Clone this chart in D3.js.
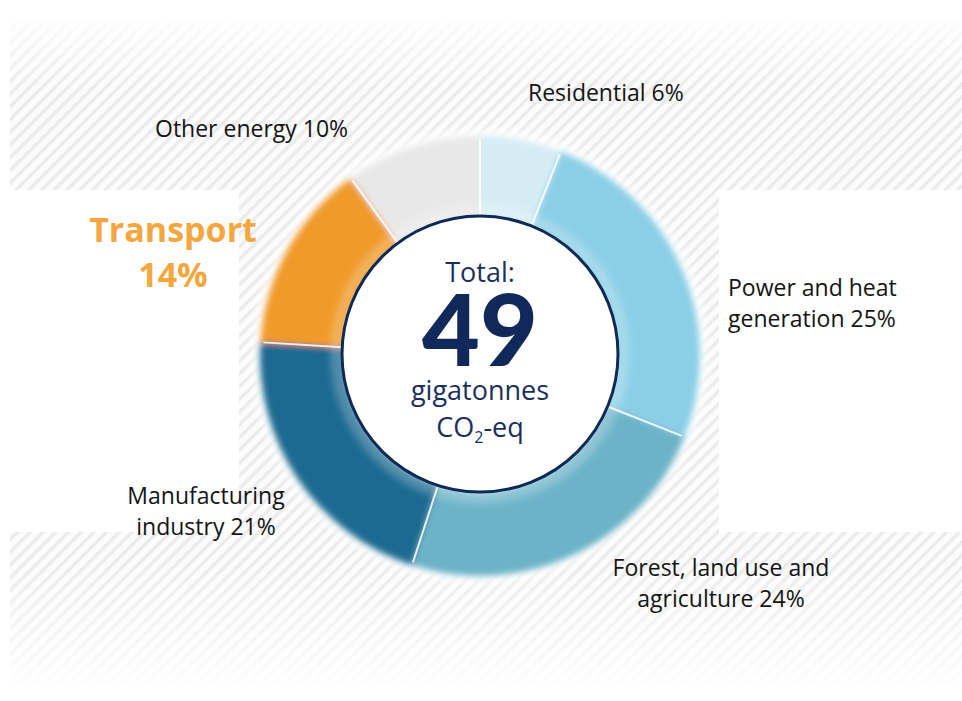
<!DOCTYPE html>
<html>
<head>
<meta charset="utf-8">
<script src="https://cdn.jsdelivr.net/npm/d3@7"></script>
<style>
  html, body { margin: 0; padding: 0; background: #ffffff; }
  svg { display: block; }
</style>
</head>
<body>
<svg id="chart" width="962" height="701"></svg>
<script>
// ---- data ----
const categories = ["Residential", "Power and heat generation", "Forest, land use and agriculture", "Manufacturing industry", "Transport", "Other energy"];
const values = [6, 25, 24, 21, 14, 10];
const labelLines = [
  ["Residential 6%"],
  ["Power and heat", "generation 25%"],
  ["Forest, land use and", "agriculture 24%"],
  ["Manufacturing", "industry 21%"],
  ["Transport", "14%"],
  ["Other energy 10%"]
];
const totalValue = "49";

// ---- styles (kept apart from data) ----
const innerColors = ["#eaf5f9", "#cdebf5", "#acd8e5", "#5ea6c5", "#f8be72", "#f1f1f1"];
const outerColors = ["#d6ecf4", "#8bcfe6", "#6cb3c8", "#1b6b91", "#f09a2a", "#e8e8e8"];
const labelPos = [
  {x: 528, y: 101, anchor: "start"},
  {x: 728, y: 296, anchor: "start"},
  {x: 721, y: 576, anchor: "middle"},
  {x: 206, y: 504, anchor: "middle"},
  {x: 173, y: 242, anchor: "middle"},
  {x: 155, y: 137, anchor: "start"}
];

const W = 962, H = 701;
const cx = 480, cy = 356;
const rOuter = 220, rInner = 140, rCenter = 138;

const svg = d3.select("#chart");
const defs = svg.append("defs");

// hatch pattern
const pat = defs.append("pattern")
  .attr("id", "hatch").attr("patternUnits", "userSpaceOnUse")
  .attr("width", 9).attr("height", 9)
  .attr("patternTransform", "rotate(45)");
pat.append("rect").attr("width", 9).attr("height", 9).attr("fill", "#fcfcfc");
pat.append("rect").attr("x", 0).attr("width", 3.4).attr("height", 9).attr("fill", "#ebebeb");

// fade mask for hatched background
const fade = defs.append("linearGradient").attr("id", "fadeV").attr("x1", 0).attr("y1", 0).attr("x2", 0).attr("y2", 1);
fade.append("stop").attr("offset", "0").attr("stop-color", "#fff").attr("stop-opacity", 0.15);
fade.append("stop").attr("offset", "0.1").attr("stop-color", "#fff").attr("stop-opacity", 1);
fade.append("stop").attr("offset", "0.82").attr("stop-color", "#fff").attr("stop-opacity", 1);
fade.append("stop").attr("offset", "1").attr("stop-color", "#fff").attr("stop-opacity", 0.1);
const mask = defs.append("mask").attr("id", "bgMask");
mask.append("rect").attr("x", 10).attr("y", 20).attr("width", W - 10).attr("height", 665).attr("fill", "url(#fadeV)");

svg.append("rect").attr("width", W).attr("height", H).attr("fill", "#ffffff");
svg.append("rect").attr("x", 10).attr("y", 20).attr("width", W - 10).attr("height", 665)
  .attr("fill", "url(#hatch)").attr("mask", "url(#bgMask)");
// white panels behind side labels
svg.append("rect").attr("x", 10).attr("y", 190).attr("width", 229).attr("height", 342).attr("fill", "#ffffff");
svg.append("rect").attr("x", 719).attr("y", 190).attr("width", W - 719).attr("height", 342).attr("fill", "#ffffff");

// filters
const blur = defs.append("filter").attr("id", "soft").attr("x", "-20%").attr("y", "-20%").attr("width", "140%").attr("height", "140%");
blur.append("feGaussianBlur").attr("stdDeviation", 3.2);
const glow = defs.append("filter").attr("id", "glow").attr("x", "-30%").attr("y", "-30%").attr("width", "160%").attr("height", "160%");
glow.append("feGaussianBlur").attr("stdDeviation", 5);

// gradients per segment
values.forEach((v, i) => {
  const g = defs.append("radialGradient").attr("id", "seg" + i)
    .attr("gradientUnits", "userSpaceOnUse")
    .attr("cx", cx).attr("cy", cy).attr("r", rOuter);
  g.append("stop").attr("offset", rInner / rOuter).attr("stop-color", innerColors[i]);
  g.append("stop").attr("offset", 1).attr("stop-color", outerColors[i]);
});

const pie = d3.pie().sort(null).value(d => d).startAngle(0).endAngle(2 * Math.PI);
const arcs = pie(values);
const arc = d3.arc().innerRadius(rInner - 4).outerRadius(rOuter);

const root = svg.append("g").attr("transform", `translate(${cx},${cy})`);

// white halo behind donut
root.append("circle").attr("r", rOuter + 6).attr("fill", "#ffffff").attr("filter", "url(#glow)").attr("opacity", 0.9);

const donut = root.append("g").attr("filter", "url(#soft)");
donut.selectAll("path").data(arcs).join("path")
  .attr("d", arc)
  .attr("fill", (d, i) => `url(#seg${i})`);

// separators
root.selectAll("line.sep").data(arcs).join("line")
  .attr("class", "sep")
  .attr("x1", d => Math.sin(d.startAngle) * (rInner - 2))
  .attr("y1", d => -Math.cos(d.startAngle) * (rInner - 2))
  .attr("x2", d => Math.sin(d.startAngle) * (rOuter - 3))
  .attr("y2", d => -Math.cos(d.startAngle) * (rOuter - 3))
  .attr("stroke", "#ffffff").attr("stroke-width", 2).attr("opacity", 0.85);

// inner white disc
root.append("circle").attr("cx", 0).attr("cy", -2).attr("r", rCenter + 6)
  .attr("fill", "none").attr("stroke", "#ffffff").attr("stroke-width", 8).attr("opacity", 0.35).attr("filter", "url(#glow)");
root.append("circle").attr("cx", 0).attr("cy", -2).attr("r", rCenter)
  .attr("fill", "#ffffff").attr("stroke", "#0e2a55").attr("stroke-width", 3);

// center texts
const navy = "#1b2f5b";
const ctr = svg.append("g").attr("fill", navy).attr("text-anchor", "middle").style("font-family", "'Open Sans', 'Noto Sans', sans-serif");
ctr.append("text").attr("x", cx).attr("y", 282).attr("font-size", 27).text("Total:");
ctr.append("text").attr("x", cx).attr("y", 366).attr("font-size", 100)
  .style("font-family", "Lato, 'Open Sans', sans-serif").style("font-weight", 900).attr("fill", "#10285a").text(totalValue);
ctr.append("text").attr("x", cx).attr("y", 400).attr("font-size", 27).text("gigatonnes");
const co2 = ctr.append("text").attr("x", cx).attr("y", 437).attr("font-size", 27);
co2.append("tspan").text("CO");
co2.append("tspan").attr("font-size", 16).attr("dy", 6).text("2");
co2.append("tspan").attr("dy", -6).text("-eq");

// segment labels
const lab = svg.append("g").style("font-family", "'Open Sans', 'Noto Sans', sans-serif");
labelLines.forEach((lines, i) => {
  const p = labelPos[i];
  const isTransport = categories[i] === "Transport";
  const t = lab.append("text")
    .attr("x", p.x).attr("y", p.y)
    .attr("text-anchor", p.anchor)
    .attr("font-size", isTransport ? 34 : 23)
    .attr("font-weight", isTransport ? 700 : 400)
    .attr("fill", isTransport ? "#f4a63f" : "#141414");
  lines.forEach((ln, j) => {
    t.append("tspan").attr("x", p.x).attr("dy", j === 0 ? 0 : (isTransport ? 45 : 30.5)).text(ln);
  });
});
</script>
</body>
</html>
